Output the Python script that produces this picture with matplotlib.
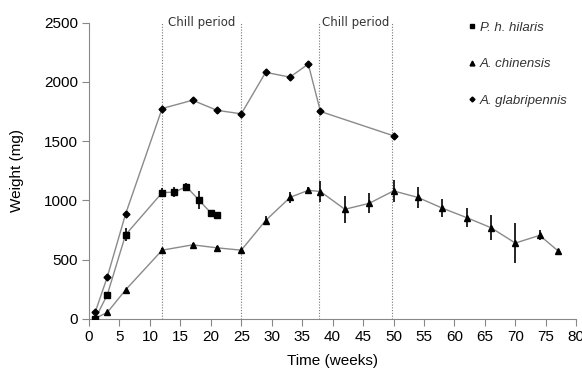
import matplotlib
matplotlib.use("Agg")
import matplotlib.pyplot as plt
from matplotlib.lines import Line2D

# P. h. hilaris
ph_weeks = [1, 3, 6, 12, 14, 16, 18, 20, 21]
ph_weight = [0, 205, 710, 1065, 1070, 1115, 1005, 895, 875]
ph_err = [0, 15, 55, 38, 45, 30, 75, 20, 12]

# A. chinensis
ac_weeks = [1, 3, 6, 12, 17, 21, 25, 29, 33, 36, 38, 42, 46, 50, 54, 58, 62, 66, 70, 74, 77]
ac_weight = [5, 55, 245, 580, 625, 600, 580, 830, 1025, 1085, 1075, 925, 975, 1080,
             1025, 935, 855, 770, 640, 705, 575]
ac_err = [0, 0, 0, 15, 15, 12, 0, 38, 50, 25, 85, 115, 85, 90, 85, 75, 80, 105, 170, 42, 15]

# A. glabripennis
ag_weeks = [1, 3, 6, 12, 17, 21, 25, 29, 33, 36, 38, 50]
ag_weight = [55, 355, 885, 1775, 1845, 1760, 1730, 2080, 2040, 2150, 1750, 1545]

chill_lines = [12, 25, 37.7, 49.8]
chill_labels = [18.5, 43.8]

plt.rcParams['font.family'] = ['Liberation Sans', 'DejaVu Sans']

fig = plt.figure(figsize=(5.82, 3.70), dpi=100)
ax = fig.add_axes([0.153, 0.138, 0.837, 0.801])

line_col = '#8a8a8a'
ax.plot(ag_weeks, ag_weight, color=line_col, lw=1.0, zorder=2)
ax.plot(ag_weeks, ag_weight, 'D', color='black', ms=3.5, zorder=3)

ax.plot(ph_weeks, ph_weight, color=line_col, lw=1.0, zorder=2)
ax.errorbar(ph_weeks, ph_weight, yerr=ph_err, fmt='s', color='black', ms=5,
            elinewidth=1.2, capsize=0, zorder=3)

ax.plot(ac_weeks, ac_weight, color=line_col, lw=1.0, zorder=2)
ax.errorbar(ac_weeks, ac_weight, yerr=ac_err, fmt='^', color='black', ms=5,
            elinewidth=1.2, capsize=0, zorder=3)

for x in chill_lines:
    ax.plot([x, x], [0, 2500], color='#777777', lw=0.8, ls=(0, (1, 1.5)), zorder=1)
for x in chill_labels:
    ax.text(x, 2500, 'Chill period', ha='center', va='center', fontsize=8.5,
            color='#333333', family='DejaVu Sans')

ax.set_xlim(0, 80)
ax.set_ylim(0, 2500)
ax.set_xticks(range(0, 81, 5))
ax.set_yticks(range(0, 2501, 500))
for s in ['top', 'right']:
    ax.spines[s].set_visible(False)
for s in ['left', 'bottom']:
    ax.spines[s].set_color('#888888')
ax.tick_params(axis='both', colors='#888888', labelcolor='black', labelsize=11,
               length=5, pad=3)
ax.set_xlabel('Time (weeks)', fontsize=11, labelpad=7)
ax.set_ylabel('Weight (mg)', fontsize=11, labelpad=14)

handles = [
    Line2D([], [], ls='none', marker='s', color='black', ms=3.5),
    Line2D([], [], ls='none', marker='^', color='black', ms=3.5),
    Line2D([], [], ls='none', marker='D', color='black', ms=2.5),
]
labels = ['P. h. hilaris', 'A. chinensis', 'A. glabripennis']
leg = fig.legend(handles, labels, loc='upper left', bbox_to_anchor=(0.785, 0.974),
                 frameon=False, handlelength=0.5, handletextpad=0.35,
                 labelspacing=1.85, prop={'style': 'italic', 'size': 9.5})
for t in leg.get_texts():
    t.set_color('#333333')

fig.savefig('out.png', dpi=100)
